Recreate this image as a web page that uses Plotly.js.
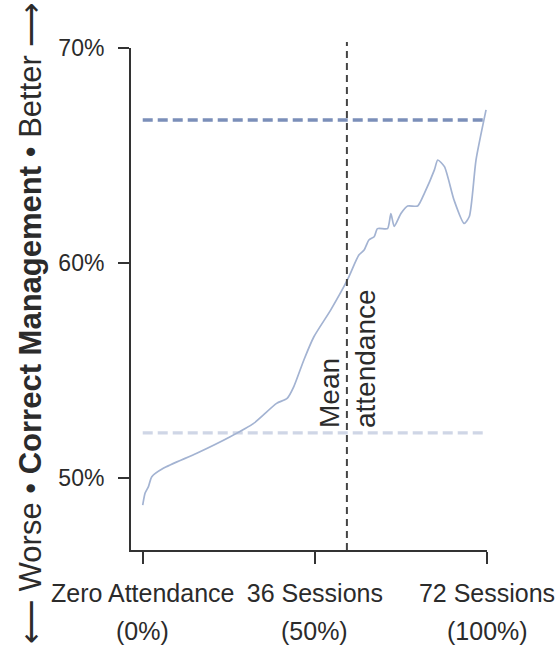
<!DOCTYPE html>
<html>
<head>
<meta charset="utf-8">
<script src="https://cdn.plot.ly/plotly-3.0.1.min.js"></script>
<style>html,body{margin:0;padding:0;background:#fff;overflow:hidden;}#chart{width:557px;height:651px;}</style>
</head>
<body>
<div id="chart"></div>
<script>
// Sessions attended (x) and correct-management share in % (y)
const sessions = [0, 0.5, 1.2, 1.9, 4.3, 11.3, 18.3, 23.2, 28.0, 30.2, 31.6, 33.7, 35.8, 39.3, 42.8, 45.2, 46.3, 47.3, 48.4, 49.1, 51.2, 51.9, 52.6, 54.0, 55.4, 57.5, 58.9, 61.0, 61.7, 63.1, 65.1, 67.2, 68.3, 69.7, 71.8];
const correctPct = [48.74, 49.3, 49.6, 50.06, 50.45, 51.15, 51.92, 52.54, 53.47, 53.70, 54.25, 55.49, 56.57, 57.81, 59.21, 60.37, 60.6, 61.07, 61.22, 61.6, 61.6, 62.3, 61.7, 62.3, 62.65, 62.65, 63.24, 64.33, 64.79, 64.48, 62.93, 61.84, 62.16, 64.79, 67.12];

const upperRef = 66.65;
const lowerRef = 52.1;
const refSpan = [0, 71.2];
const meanAttendance = 42.7;

const xTickVals = [0, 36, 72];
const xTickText = ["Zero Attendance", "36 Sessions", "72 Sessions"];
const xTickSub = ["(0%)", "(50%)", "(100%)"];
const yTickVals = [50, 60, 70];
const yTickText = ["50%", "60%", "70%"];

const regular = "'Liberation Sans', Arial, Helvetica, sans-serif";
const ink = '#2b2b2b';

const traces = [
  {x: refSpan, y: [upperRef, upperRef], mode: 'lines', line: {color: '#7b8fb9', width: 3.4, dash: '10px,5px'}, hoverinfo: 'skip'},
  {x: refSpan, y: [lowerRef, lowerRef], mode: 'lines', line: {color: '#cfd6e6', width: 3.2, dash: '10px,5px'}, hoverinfo: 'skip'},
  {x: sessions, y: correctPct, mode: 'lines', line: {color: '#a3b3d2', width: 1.7, shape: 'spline', smoothing: 0.6}}
];

const subAnnotations = xTickVals.map((v, i) => ({
  text: xTickSub[i], xref: 'x', yref: 'paper', x: v, y: -0.161,
  showarrow: false, xanchor: 'center', yanchor: 'middle',
  font: {family: regular, size: 25, color: ink}
}));

const layout = {
  width: 557, height: 651,
  margin: {l: 131, r: 70, t: 48, b: 101},
  paper_bgcolor: '#fff', plot_bgcolor: '#fff',
  showlegend: false,
  font: {family: regular, color: ink},
  xaxis: {
    range: [-2.45, 72], showgrid: false, zeroline: false,
    showline: true, linecolor: '#333', linewidth: 2,
    ticks: 'outside', ticklen: 12, tickwidth: 2, tickcolor: '#333',
    tickvals: xTickVals, ticktext: xTickText, tickangle: 0,
    tickfont: {family: regular, size: 25, color: ink},
    ticklabelstandoff: 8
  },
  yaxis: {
    range: [46.65, 70], showgrid: false, zeroline: false,
    showline: true, linecolor: '#333', linewidth: 2,
    ticks: 'outside', ticklen: 11, tickwidth: 2, tickcolor: '#333',
    tickvals: yTickVals, ticktext: yTickText,
    tickfont: {family: regular, size: 23, color: ink},
    ticklabelstandoff: 9
  },
  shapes: [
    {type: 'line', xref: 'x', yref: 'paper', x0: meanAttendance, x1: meanAttendance, y0: 0, y1: 1.012,
     line: {color: '#444', width: 2, dash: '7px,5px'}}
  ],
  annotations: [
    {text: '⟵ Worse • <b>Correct Management</b> • Better ⟶', xref: 'paper', yref: 'paper',
     x: -0.284, y: 0.452, textangle: -90, showarrow: false, xanchor: 'center', yanchor: 'middle',
     font: {family: regular, size: 31, color: ink}},
    {text: 'Mean<br>attendance', xref: 'x', yref: 'y', x: meanAttendance, y: 52.25,
     textangle: -90, showarrow: false, xanchor: 'center', yanchor: 'bottom', align: 'left',
     font: {family: regular, size: 28, color: ink}}
  ].concat(subAnnotations)
};

Plotly.newPlot('chart', traces, layout, {displayModeBar: false, staticPlot: true});
</script>
</body>
</html>
